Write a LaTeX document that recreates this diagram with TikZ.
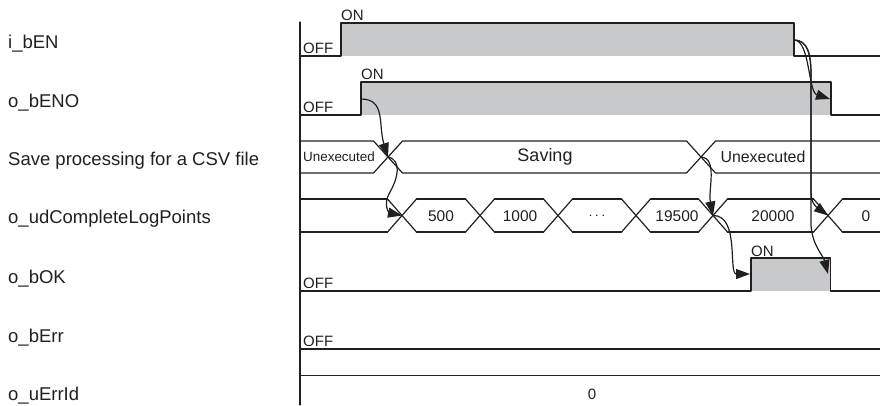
\documentclass[tikz,border=0pt]{standalone}
\usepackage{fontspec}
\setmainfont{Liberation Sans}
\usetikzlibrary{arrows.meta}
\definecolor{ink}{RGB}{35,31,32}
\definecolor{onfill}{RGB}{200,201,203}

\begin{document}
\begin{tikzpicture}[line cap=round,line join=round,>={Triangle[length=14pt,width=10pt]},x=1pt,y=-1pt,
	sig/.style={line width=1.2pt,color=ink},
	lnk/.style={line width=1.2pt,color=ink,->},
	lbl/.style={anchor=base west,inner sep=0pt,text=ink,font=\fontsize{18.5}{20}\selectfont},
	lvl/.style={anchor=base west,inner sep=0pt,text=ink,font=\fontsize{15}{17}\selectfont},
	val/.style={inner sep=0pt,text=ink,font=\fontsize{15.5}{17}\selectfont}]
	\useasboundingbox (0,0) rectangle (880,405);
	\node[lbl] (nen) at (8,48) {i\_bEN};
	\node[lbl] (neno) at (8,107) {o\_bENO};
	\node[lbl] (nsave) at (8,165) {Save processing for a CSV file};
	\node[lbl] (nlog) at (8,223) {o\_udCompleteLogPoints};
	\node[lbl] (nok) at (8,283) {o\_bOK};
	\node[lbl] (nerr) at (8,342) {o\_bErr};
	\node[lbl] (nerrid) at (8,400) {o\_uErrId};
	\draw[sig] (300,22) -- (300,405);
	\fill[onfill] (341,23) rectangle (794,56);
	\draw[sig] (300,56) -- (341,56) -- (341,23) -- (794,23) -- (794,56) -- (880,56);
	\node[lvl] (enoff) at (303,53.5) {OFF};
	\node[lvl] (enon) at (341,20) {ON};
	\fill[onfill] (361,82) rectangle (831,115);
	\draw[sig] (300,115) -- (361,115) -- (361,82) -- (831,82) -- (831,115) -- (880,115);
	\node[lvl] (enooff) at (303,112.5) {OFF};
	\node[lvl] (enoon) at (361,79) {ON};
	\draw[sig] (300,141) -- (373.5,141) -- (402.5,173) -- (686.5,173) -- (715.5,141) -- (880,141);
	\draw[sig] (300,173) -- (373.5,173) -- (402.5,141) -- (686.5,141) -- (715.5,173) -- (880,173);
	\node[val,font=\fontsize{13.4}{15}\selectfont] (unex1) at (339,157) {Unexecuted};
	\node[val,font=\fontsize{18}{20}\selectfont] (saving) at (545,157) {Saving};
	\node[val,font=\fontsize{15.9}{17}\selectfont] (unex2) at (763,157) {Unexecuted};
	\draw[sig] (300,199) -- (387.5,199);
	\draw[sig] (300,232) -- (387.5,232);
	\foreach \a/\b in {416.5/465.5,494.5/543.5,572.5/621.5,650.5/698.5,727.5/813.5}{
		\draw[sig] (\a,199) -- (\b,199);
		\draw[sig] (\a,232) -- (\b,232);
	}
	\draw[sig] (842.5,199) -- (880,199);
	\draw[sig] (842.5,232) -- (880,232);
	\foreach \c in {402,480,558,636,713,828}{
		\draw[sig] (\c-14.5,199) -- (\c+14.5,232);
		\draw[sig] (\c-14.5,232) -- (\c+14.5,199);
	}
	\node[val] (v1) at (441,216) {500};
	\node[val] (v2) at (520,216) {1000};
	\node[val] (v3) at (597,216) {$\cdots$};
	\node[val] (v4) at (677,216) {19500};
	\node[val] (v5) at (773,216) {20000};
	\node[val] (v6) at (866,216) {0};
	\fill[onfill] (751,258) rectangle (830.5,291);
	\draw[sig] (300,291) -- (751,291) -- (751,258) -- (830.5,258) -- (830.5,291) -- (880,291);
	\node[lvl] (okoff) at (303,288.5) {OFF};
	\node[lvl] (okon) at (751,256) {ON};
	\draw[sig] (300,349) -- (880,349);
	\node[lvl] (erroff) at (303,346.5) {OFF};
	\draw[sig] (300,375.5) -- (880,375.5);
	\node[val,font=\fontsize{15}{17}\selectfont] (errid) at (592,394) {0};
	\coordinate (enrise) at (341,40);
	\coordinate (enfall) at (794,40);
	\coordinate (enorise) at (361,99);
	\coordinate (enofall) at (830,99);
	\coordinate (savex1) at (388,157);
	\coordinate (savex2) at (701,157);
	\coordinate (logx1) at (402,215.5);
	\coordinate (logx5) at (713,215.5);
	\coordinate (logx6) at (828,215.5);
	\coordinate (okrise) at (750,274);
	\coordinate (okfall) at (828,274);
	\draw[lnk] (enorise) .. controls (386,99) and (378,125) .. (savex1);
	\draw[lnk] (savex1) .. controls (402,160) and (398,178) .. (390,192) .. controls (382,206) and (390,213) .. (logx1);
	\draw[lnk] (savex2) .. controls (718,158) and (708,190) .. (logx5);
	\draw[lnk] (logx5) .. controls (740,215) and (728,274) .. (okrise);
	\draw[lnk] (enfall) .. controls (810,40) and (808,92) .. (enofall);
	\draw[lnk] (enfall) .. controls (808,40) and (811,55) .. (811,75) -- (811,192) .. controls (811,205) and (818,208) .. (logx6);
	\draw[lnk] (enfall) .. controls (808,40) and (811,55) .. (811,75) -- (811,225) .. controls (812,245) and (823,255) .. (okfall);
\end{tikzpicture}
\end{document}
